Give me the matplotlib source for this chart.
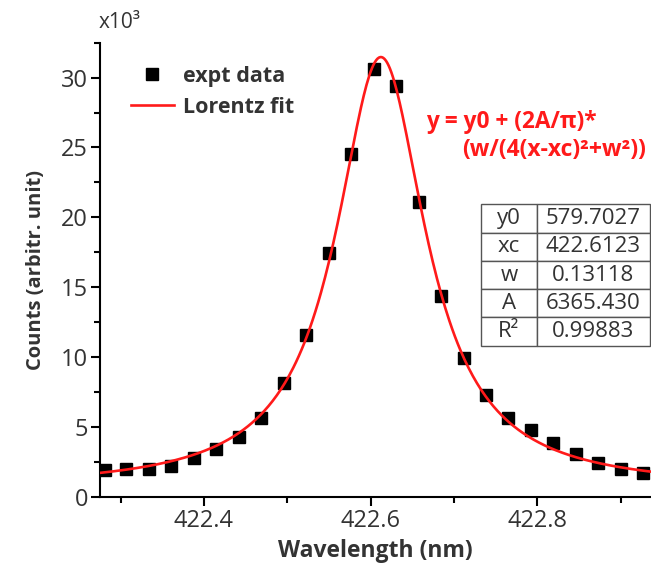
import numpy as np
import matplotlib
matplotlib.use('Agg')
import matplotlib.pyplot as plt
from matplotlib.ticker import MultipleLocator, FuncFormatter

# measured spectrum (nm, counts)
wavelength = [422.281, 422.307, 422.334, 422.361, 422.388, 422.415, 422.442,
              422.468, 422.496, 422.523, 422.550, 422.577, 422.604, 422.631,
              422.658, 422.685, 422.712, 422.739, 422.765, 422.792, 422.819,
              422.847, 422.873, 422.900, 422.927]
counts = [1910, 1950, 1950, 2190, 2740, 3410, 4290, 5600, 8170, 11550,
          17460, 24530, 30640, 29390, 21120, 14360, 9960, 7260, 5640,
          4760, 3880, 3050, 2410, 1960, 1710]

# Lorentz fit parameters shown in the table
par_names = ["y0", "xc", "w", "A", "R\u00b2"]
par_values = ["579.7027", "422.6123", "0.13118", "6365.430", "0.99883"]
y0, xc, w, A = 579.7027, 422.6123, 0.13118, 6365.430

plt.rcParams['font.family'] = ['Open Sans', 'DejaVu Sans']
GRAY = '#333333'
RED = '#ff1a1a'

fig = plt.figure(figsize=(6.51, 5.66), dpi=100)
ax = fig.add_axes([0.1536, 0.1224, 0.8464, 0.8022])

xf = np.linspace(422.2752, 422.9365, 400)
yf = y0 + (2 * A / np.pi) * (w / (4 * (xf - xc) ** 2 + w ** 2))

ax.plot(wavelength, counts, 's', color='black', markersize=8, label='expt data', zorder=2)
ax.plot(xf, yf, '-', color=RED, linewidth=1.9, label='Lorentz fit', zorder=3)

ax.set_xlim(422.2752, 422.9365)
ax.set_ylim(0, 32500)
ax.xaxis.set_major_locator(MultipleLocator(0.2))
ax.xaxis.set_minor_locator(MultipleLocator(0.1))
ax.yaxis.set_major_locator(MultipleLocator(5000))
ax.yaxis.set_minor_locator(MultipleLocator(2500))
ax.xaxis.set_major_formatter(FuncFormatter(lambda v, p: f"{v:.1f}"))
ax.yaxis.set_major_formatter(FuncFormatter(lambda v, p: f"{v/1000:.0f}"))

for s in ['top', 'right']:
    ax.spines[s].set_visible(False)
for s in ['left', 'bottom']:
    ax.spines[s].set_linewidth(1.5)
ax.tick_params(which='major', direction='out', length=6.5, width=1.5,
               labelsize=17, labelcolor=GRAY, pad=2)
ax.tick_params(which='minor', direction='out', length=4, width=1.5)

ax.set_xlabel("Wavelength (nm)", fontsize=16.5, fontweight='bold', color=GRAY, labelpad=5)
ax.set_ylabel("Counts (arbitr. unit)", fontsize=14.5, fontweight='bold', color=GRAY, labelpad=11)

fig.text(99 / 651, 1 - 23 / 566, "x10\u00b3", fontsize=15, color=GRAY, ha='left', va='center')

ax.legend(loc='upper left', bbox_to_anchor=(0.04, 0.968), frameon=False,
          prop={'weight': 'bold', 'size': 15.5}, handlelength=2.0, handletextpad=0.45,
          labelspacing=0.45, labelcolor=GRAY, borderaxespad=0)

ax.text(0.5917, 0.826, "y = y0 + (2A/\u03c0)*", transform=ax.transAxes,
        fontsize=16.3, fontweight='bold', color=RED, ha='left', va='center')
ax.text(0.658, 0.7637, "(w/(4(x-xc)\u00b2+w\u00b2))", transform=ax.transAxes,
        fontsize=16.5, fontweight='bold', color=RED, ha='left', va='center')

tbl = ax.table(cellText=[[n, v] for n, v in zip(par_names, par_values)],
               cellLoc='center', colWidths=[0.33, 0.67],
               bbox=[0.6915, 0.3326, 0.3067, 0.3114])
tbl.auto_set_font_size(False)
for (r, c), cell in tbl.get_celld().items():
    cell.set_edgecolor('#555555')
    cell.set_linewidth(1.0)
    cell.get_text().set_fontsize(16)
    cell.get_text().set_color(GRAY)

fig.savefig('out.png', dpi=100)
